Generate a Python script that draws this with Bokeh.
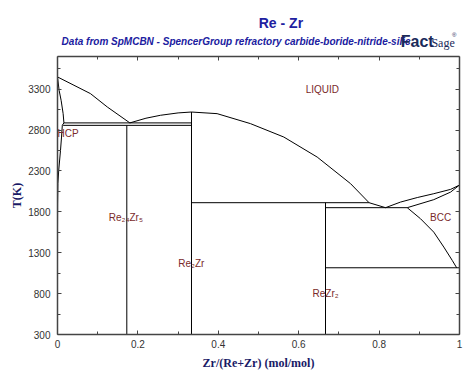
from bokeh.plotting import figure
from bokeh.models import LinearAxis, FixedTicker, NumeralTickFormatter, CustomJSTickFormatter, ColumnDataSource, Range1d
from bokeh.layouts import column
from bokeh.core.properties import value
from bokeh.embed import file_html
from bokeh.resources import INLINE

# ---------------- data ----------------
x_ticks = [0, 0.2, 0.4, 0.6, 0.8, 1.0]
x_minor = [0.1, 0.3, 0.5, 0.7, 0.9]
y_ticks = [300, 800, 1300, 1800, 2300, 2800, 3300]
y_minor = [550, 1050, 1550, 2050, 2550, 3050, 3550]

# Re-rich side
re_liq_x = [0.0, 0.041, 0.082, 0.124, 0.18]
re_liq_T = [3450, 3348, 3246, 3082, 2888]
hcp_sol_x = [0.0, 0.004, 0.009, 0.014, 0.016]
hcp_sol_T = [3450, 3287, 3164, 3001, 2888]
hcp_solv_x = [0.016, 0.012, 0.01, 0.0075, 0.003, 0.001, 0.0003, 0.0]
hcp_solv_T = [2888, 2860, 2715, 2552, 2307, 2148, 1900, 1600]

# Re2Zr liquidus
r2z_liq_l_x = [0.18, 0.22, 0.256, 0.3, 0.333]
r2z_liq_l_T = [2888, 2945, 2981, 3010, 3021]
r2z_liq_r_x = [0.333, 0.397, 0.48, 0.563, 0.646, 0.729, 0.775, 0.816]
r2z_liq_r_T = [3021, 3001, 2879, 2715, 2470, 2145, 1912, 1851]

# Zr-rich side
zr_liq_x = [0.816, 0.853, 0.895, 0.936, 0.978, 1.0]
zr_liq_T = [1851, 1919, 1975, 2022, 2075, 2128]
bcc_sol_x = [0.87, 0.936, 0.978, 1.0]
bcc_sol_T = [1851, 1949, 2042, 2128]
bcc_solv_x = [0.87, 0.903, 0.936, 0.961, 0.982, 0.993]
bcc_solv_T = [1851, 1716, 1552, 1369, 1206, 1116]

# invariant lines (x_start, x_end, T)
inv_x0 = [0.016, 0.014, 0.333, 0.6667, 0.6667]
inv_x1 = [0.333, 0.333, 0.775, 0.87, 1.0]
inv_T = [2888, 2858, 1912, 1851, 1116]

# compound lines (x, T_top)
cmp_x = [0.1724, 0.3333, 0.6667]
cmp_T = [2858, 3021, 1912]
T_min = 300

# phase labels
lab_text = ["LIQUID", "HCP", "Re\u2082\u2084Zr\u2085", "Re\u2082Zr", "ReZr\u2082", "BCC"]
lab_x = [0.659, 0.0, 0.17, 0.333, 0.667, 0.953]
lab_T = [3300, 2760, 1732, 1173, 802, 1732]
lab_align = ["center", "left", "center", "center", "center", "center"]

title_text = "Re - Zr"
subtitle_text = "Data from SpMCBN - SpencerGroup refractory carbide-boride-nitride-silic"
x_label = "Zr/(Re+Zr) (mol/mol)"
y_label = "T(K)"

W = 466
HEAD_H = 50
FONT = "Liberation Sans"
BLUE = "#2020a0"
NAVY = "#1a1a66"
LOGO = "#1a2a5a"

# ---------------- header (title, subtitle, logo) ----------------
head = figure(width=W, height=HEAD_H, x_range=Range1d(0, W), y_range=Range1d(HEAD_H, 0),
              output_backend="svg", toolbar_location=None, x_axis_type=None, y_axis_type=None,
              min_border=0)
head.grid.visible = False
head.outline_line_color = None
head.text(x=[259], y=[22.5], text=[title_text], text_align="center", text_baseline="middle",
          text_font=value(FONT), text_font_style="bold", text_font_size="14px", text_color=BLUE)
head.text(x=[207], y=[40.5], text=[subtitle_text], text_align="center", text_baseline="middle",
          text_font=value(FONT), text_font_style="bold italic", text_font_size="10px", text_color=BLUE)
head.text(x=[417], y=[41], text=["Fact"], text_align="center", text_baseline="middle",
          text_font=value(FONT), text_font_style="bold", text_font_size="16px", text_color=LOGO)
head.text(x=[447], y=[42], text=["Sage"], text_align="center", text_baseline="middle",
          text_font=value("Liberation Serif"), text_font_size="12px", text_color=LOGO)
head.text(x=[460], y=[34], text=["\u00ae"], text_align="center", text_baseline="middle",
          text_font=value(FONT), text_font_size="6px", text_color=LOGO)

# ---------------- main figure ----------------
p = figure(width=W, height=373 - HEAD_H, x_range=(0, 1), y_range=(300, 3700),
           output_backend="svg", toolbar_location=None,
           min_border_left=57, min_border_right=7, min_border_top=6, min_border_bottom=39)
p.grid.visible = False
p.outline_line_color = None

AX_COL = "#444444"

def style_axis(ax, show_labels):
    ax.axis_line_color = AX_COL
    ax.axis_line_width = 1.5
    ax.major_tick_line_color = AX_COL
    ax.minor_tick_line_color = AX_COL
    ax.major_tick_in = 4
    ax.major_tick_out = 0
    ax.minor_tick_in = 3
    ax.minor_tick_out = 0
    if show_labels:
        ax.major_label_text_font = FONT
        ax.major_label_text_font_size = "10px"
        ax.major_label_text_color = "#333333"
        ax.axis_label_text_font = "Liberation Serif"
        ax.axis_label_text_font_style = "bold"
        ax.axis_label_text_font_size = "12px"
        ax.axis_label_text_color = NAVY
    else:
        ax.major_label_text_font_size = "0px"
        ax.major_label_standoff = 0
        ax.formatter = CustomJSTickFormatter(code="return ''")

p.xaxis.ticker = FixedTicker(ticks=x_ticks, minor_ticks=x_minor)
p.yaxis.ticker = FixedTicker(ticks=y_ticks, minor_ticks=y_minor)
p.xaxis.formatter = NumeralTickFormatter(format="0.[0]")
p.xaxis.axis_label = x_label
p.yaxis.axis_label = y_label
for ax in p.xaxis:
    style_axis(ax, True)
    ax.major_label_standoff = 5
    ax.axis_label_standoff = 5
for ax in p.yaxis:
    style_axis(ax, True)
    ax.major_label_standoff = 7
    ax.axis_label_standoff = 1

top = LinearAxis(ticker=FixedTicker(ticks=x_ticks, minor_ticks=x_minor))
style_axis(top, False)
p.add_layout(top, "above")
right = LinearAxis(ticker=FixedTicker(ticks=y_ticks, minor_ticks=y_minor))
style_axis(right, False)
p.add_layout(right, "right")

LC = "black"
LW = 1
for xs, ts in [(re_liq_x, re_liq_T), (hcp_sol_x, hcp_sol_T), (hcp_solv_x, hcp_solv_T),
               (r2z_liq_l_x, r2z_liq_l_T), (r2z_liq_r_x, r2z_liq_r_T),
               (zr_liq_x, zr_liq_T), (bcc_sol_x, bcc_sol_T), (bcc_solv_x, bcc_solv_T)]:
    p.line(xs, ts, line_color=LC, line_width=LW)

p.segment(x0=inv_x0, y0=inv_T, x1=inv_x1, y1=inv_T, line_color=LC, line_width=LW)
p.segment(x0=cmp_x, y0=[T_min] * len(cmp_x), x1=cmp_x, y1=cmp_T, line_color=LC, line_width=LW)

lab_src = ColumnDataSource(dict(x=lab_x, y=lab_T, text=lab_text, align=lab_align))
p.text(x="x", y="y", text="text", source=lab_src, text_align={"field": "align"},
       text_baseline="middle", text_font=value(FONT), text_font_size="10px", text_color="#7a2a2a")

layout = column(head, p, spacing=0)
open("out.html", "w").write(file_html(layout, INLINE))
